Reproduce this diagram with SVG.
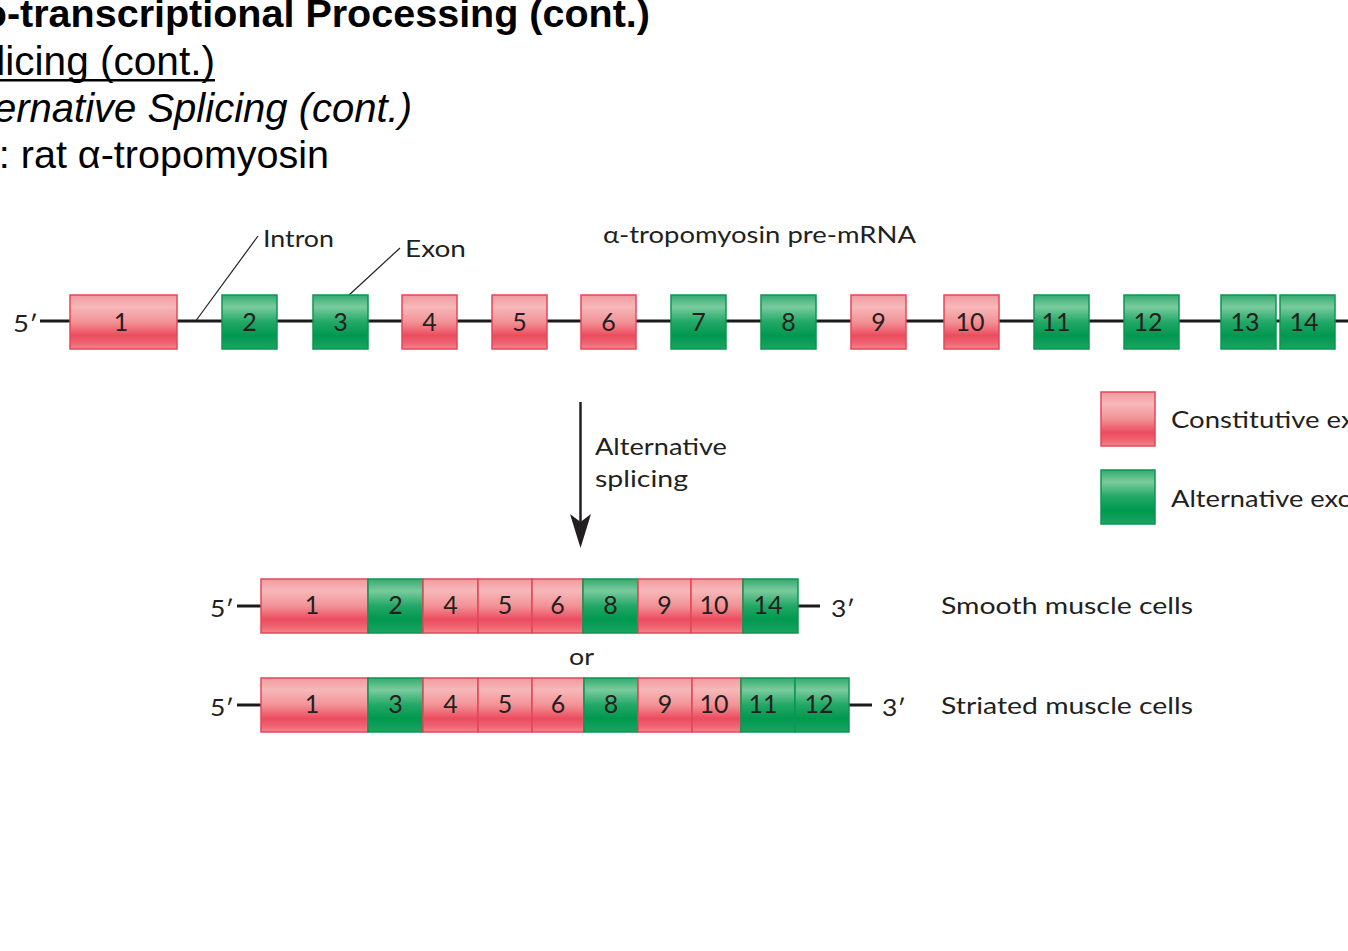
<svg xmlns="http://www.w3.org/2000/svg" width="1348" height="951" viewBox="0 0 1348 951">
<defs>
<linearGradient id="gP" x1="0" y1="0" x2="0" y2="1">
<stop offset="0" stop-color="#f29a9e"/>
<stop offset="0.22" stop-color="#f7b8b9"/>
<stop offset="0.5" stop-color="#f29296"/>
<stop offset="0.75" stop-color="#ec4c5e"/>
<stop offset="0.9" stop-color="#ef6674"/>
<stop offset="1" stop-color="#f3868d"/>
</linearGradient>
<linearGradient id="gG" x1="0" y1="0" x2="0" y2="1">
<stop offset="0" stop-color="#34ab6f"/>
<stop offset="0.22" stop-color="#7acb9e"/>
<stop offset="0.5" stop-color="#22a866"/>
<stop offset="0.75" stop-color="#00984f"/>
<stop offset="1" stop-color="#1ca462"/>
</linearGradient>
</defs>
<style>
.t{font-family:"Liberation Sans",Arial,sans-serif;fill:#000;text-anchor:end}
.l{font-family:Lato,"Open Sans",sans-serif;font-size:24px;fill:#231f20}
.n{font-family:Lato,"Open Sans",sans-serif;font-size:25px;fill:#231f20;text-anchor:middle}
.p{fill:url(#gP);stroke:#e4475a;stroke-width:1.5}
.g{fill:url(#gG);stroke:#0b9652;stroke-width:1.5}
.ln{stroke:#1a1a1a;stroke-width:3;fill:none}
.ld{stroke:#231f20;stroke-width:1.2;fill:none}
</style>
<rect width="1348" height="951" fill="#fff"/>
<g id="title">
<text class="t" x="650" y="27" font-size="39.5" font-weight="bold">Co-transcriptional Processing (cont.)</text>
<text class="t" x="215" y="75" font-size="40.6">Splicing (cont.)</text>
<rect x="0" y="79" width="215" height="2.5" fill="#000"/>
<text class="t" x="412" y="122" font-size="40" font-style="italic">Alternative Splicing (cont.)</text>
<text class="t" x="329" y="168" font-size="39.5">Example: rat α-tropomyosin</text>
</g>
<g id="connectors">
<line class="ln" x1="40" y1="321" x2="1348" y2="321"/>
<line class="ld" x1="195" y1="322" x2="258" y2="236"/>
<line class="ld" x1="348" y1="296" x2="400" y2="248"/>
<line class="ln" x1="237" y1="606" x2="261" y2="606"/>
<line class="ln" x1="798" y1="606" x2="820" y2="606"/>
<line class="ln" x1="237" y1="705" x2="261" y2="705"/>
<line class="ln" x1="849" y1="705" x2="872" y2="705"/>
<line x1="580.5" y1="402" x2="580.5" y2="522" stroke="#231f20" stroke-width="2.5"/>
<polygon points="570,514 580.5,522 591,514 580.5,548" fill="#231f20"/>
</g>
<g id="labels">
<text class="l" x="13" y="332" textLength="25" lengthAdjust="spacingAndGlyphs">5′</text>
<text class="l" x="263" y="247" textLength="71" lengthAdjust="spacingAndGlyphs">Intron</text>
<text class="l" x="405" y="257" textLength="61" lengthAdjust="spacingAndGlyphs">Exon</text>
<text class="l" x="603" y="243" textLength="313" lengthAdjust="spacingAndGlyphs">α-tropomyosin pre-mRNA</text>
<text class="l" x="595" y="455" textLength="132" lengthAdjust="spacingAndGlyphs">Alternative</text>
<text class="l" x="595" y="487" textLength="93" lengthAdjust="spacingAndGlyphs">splicing</text>
<text class="l" x="210" y="617" textLength="24" lengthAdjust="spacingAndGlyphs">5′</text>
<text class="l" x="831" y="617" textLength="24" lengthAdjust="spacingAndGlyphs">3′</text>
<text class="l" x="210" y="716" textLength="24" lengthAdjust="spacingAndGlyphs">5′</text>
<text class="l" x="882" y="716" textLength="24" lengthAdjust="spacingAndGlyphs">3′</text>
<text class="l" x="569" y="665" textLength="25" lengthAdjust="spacingAndGlyphs">or</text>
<text class="l" x="941" y="614" textLength="252" lengthAdjust="spacingAndGlyphs">Smooth muscle cells</text>
<text class="l" x="941" y="714" textLength="252" lengthAdjust="spacingAndGlyphs">Striated muscle cells</text>
</g>
<g id="legend">
<rect class="p" x="1101" y="392" width="54" height="54"/>
<text class="l" x="1171" y="428" textLength="226" lengthAdjust="spacingAndGlyphs">Constitutive exons</text>
<rect class="g" x="1101" y="470" width="54" height="54"/>
<text class="l" x="1171" y="507" textLength="209" lengthAdjust="spacingAndGlyphs">Alternative exons</text>
</g>
<g id="pre-mRNA">
<g id="e1"><rect class="p" x="70" y="295" width="107" height="54"/><text class="n" x="121" y="331">1</text></g>
<g id="e2"><rect class="g" x="222" y="295" width="55" height="54"/><text class="n" x="249.5" y="331">2</text></g>
<g id="e3"><rect class="g" x="313" y="295" width="55" height="54"/><text class="n" x="340.5" y="331">3</text></g>
<g id="e4"><rect class="p" x="402" y="295" width="55" height="54"/><text class="n" x="429.5" y="331">4</text></g>
<g id="e5"><rect class="p" x="492" y="295" width="55" height="54"/><text class="n" x="519.5" y="331">5</text></g>
<g id="e6"><rect class="p" x="581" y="295" width="55" height="54"/><text class="n" x="608.5" y="331">6</text></g>
<g id="e7"><rect class="g" x="671" y="295" width="55" height="54"/><text class="n" x="698.5" y="331">7</text></g>
<g id="e8"><rect class="g" x="761" y="295" width="55" height="54"/><text class="n" x="788.5" y="331">8</text></g>
<g id="e9"><rect class="p" x="851" y="295" width="55" height="54"/><text class="n" x="878.5" y="331">9</text></g>
<g id="e10"><rect class="p" x="944" y="295" width="55" height="54"/><text class="n" x="970" y="331">10</text></g>
<g id="e11"><rect class="g" x="1034" y="295" width="55" height="54"/><text class="n" x="1056" y="331">11</text></g>
<g id="e12"><rect class="g" x="1124" y="295" width="55" height="54"/><text class="n" x="1148" y="331">12</text></g>
<g id="e13"><rect class="g" x="1221" y="295" width="55" height="54"/><text class="n" x="1245" y="331">13</text></g>
<g id="e14"><rect class="g" x="1280" y="295" width="55" height="54"/><text class="n" x="1304" y="331">14</text></g>
</g>
<g id="smooth-mRNA">
<g id="s1"><rect class="p" x="261" y="579" width="107" height="54"/><text class="n" x="312" y="614">1</text></g>
<g id="s2"><rect class="g" x="368" y="579" width="55" height="54"/><text class="n" x="395.5" y="614">2</text></g>
<g id="s4"><rect class="p" x="423" y="579" width="55" height="54"/><text class="n" x="450.5" y="614">4</text></g>
<g id="s5"><rect class="p" x="478" y="579" width="54" height="54"/><text class="n" x="505" y="614">5</text></g>
<g id="s6"><rect class="p" x="532" y="579" width="51" height="54"/><text class="n" x="557.5" y="614">6</text></g>
<g id="s8"><rect class="g" x="583" y="579" width="55" height="54"/><text class="n" x="610.5" y="614">8</text></g>
<g id="s9"><rect class="p" x="638" y="579" width="53" height="54"/><text class="n" x="664.5" y="614">9</text></g>
<g id="s10"><rect class="p" x="691" y="579" width="52" height="54"/><text class="n" x="714" y="614">10</text></g>
<g id="s14"><rect class="g" x="743" y="579" width="55" height="54"/><text class="n" x="768" y="614">14</text></g>
</g>
<g id="striated-mRNA">
<g id="r1"><rect class="p" x="261" y="678" width="107" height="54"/><text class="n" x="312" y="713">1</text></g>
<g id="r3"><rect class="g" x="368" y="678" width="55" height="54"/><text class="n" x="395.5" y="713">3</text></g>
<g id="r4"><rect class="p" x="423" y="678" width="55" height="54"/><text class="n" x="450.5" y="713">4</text></g>
<g id="r5"><rect class="p" x="478" y="678" width="54" height="54"/><text class="n" x="505" y="713">5</text></g>
<g id="r6"><rect class="p" x="532" y="678" width="52" height="54"/><text class="n" x="558" y="713">6</text></g>
<g id="r8"><rect class="g" x="584" y="678" width="54" height="54"/><text class="n" x="611" y="713">8</text></g>
<g id="r9"><rect class="p" x="638" y="678" width="54" height="54"/><text class="n" x="665" y="713">9</text></g>
<g id="r10"><rect class="p" x="692" y="678" width="49" height="54"/><text class="n" x="714" y="713">10</text></g>
<g id="r11"><rect class="g" x="741" y="678" width="54" height="54"/><text class="n" x="763" y="713">11</text></g>
<g id="r12"><rect class="g" x="795" y="678" width="54" height="54"/><text class="n" x="819" y="713">12</text></g>
</g>
</svg>
